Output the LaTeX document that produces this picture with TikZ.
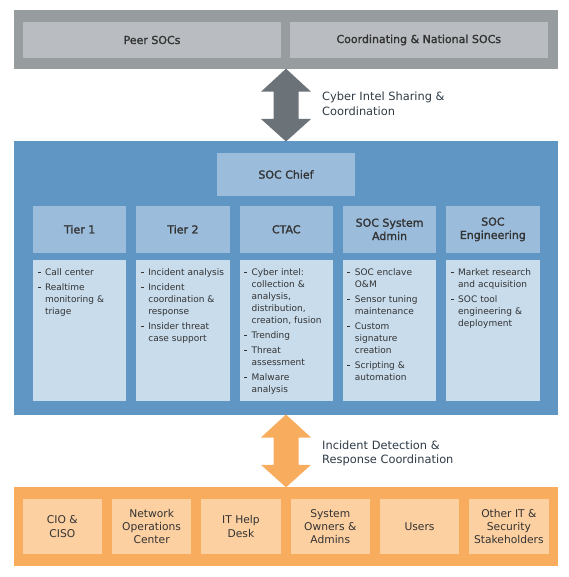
\documentclass[tikz,border=0pt]{standalone}
\usepackage{fontspec}
\setmainfont{DejaVu Sans}
\newfontfamily\headfont[FakeBold=1.5]{DejaVu Sans}
\usetikzlibrary{calc}

\definecolor{extgray}{HTML}{979C9F}
\definecolor{extbox}{HTML}{B9BCC0}
\definecolor{arrgray}{HTML}{6B7278}
\definecolor{socblue}{HTML}{6096C4}
\definecolor{hdblue}{HTML}{9BBCDB}
\definecolor{lstblue}{HTML}{C8DCEC}
\definecolor{constorange}{HTML}{F7AC5E}
\definecolor{constbox}{HTML}{FCD0A1}
\definecolor{txtdark}{HTML}{333333}
\definecolor{lbltxt}{HTML}{2F3B46}

\newcommand{\litem}[1]{\par\hangindent=7.5pt\hangafter=1\noindent\makebox[7.5pt][l]{\rule[2.5pt]{3pt}{1.1pt}}#1\par\vspace{3pt}}

\begin{document}
\begin{tikzpicture}[
    x=1pt,y=-1pt,
    band/.style={anchor=north west,inner sep=0pt,outer sep=0pt,minimum width=544pt},
    topbox/.style={fill=extbox,minimum width=257.5pt,minimum height=36pt,text=txtdark,
        font=\headfont\fontsize{11}{13.3}\selectfont},
    hdbox/.style={fill=hdblue,minimum width=93.3pt,minimum height=46.7pt,align=center,text=txtdark,
        font=\headfont\fontsize{11}{13.3}\selectfont},
    lstbox/.style={fill=lstblue,minimum width=93.3pt,minimum height=140.4pt},
    lst/.style={anchor=north west,inner sep=0pt,text width=86pt,align=left,text=txtdark,
        font=\fontsize{9}{12}\selectfont},
    cbox/.style={fill=constbox,minimum width=79.3pt,minimum height=55pt,align=center,text=txtdark,
        font=\fontsize{10.7}{13.3}\selectfont},
    lbl/.style={anchor=west,align=left,inner sep=0pt,text=lbltxt,
        font=\fontsize{11.4}{14.7}\selectfont}
]
\useasboundingbox (0,0) rectangle (568,577);

\node[band,fill=extgray,minimum height=58.7pt] (ext) at (14,10) {};
\node[topbox] (peer) at (152,40) {Peer SOCs};
\node[topbox] (natl) at (418.75,40) {Coordinating \& National SOCs};

\node[band,fill=socblue,minimum height=273pt] (soc) at (14,141.5) {};
\node[hdbox,minimum width=138pt,minimum height=43pt] (chief) at (286,174.5) {SOC Chief};

\node[hdbox] (tier1) at (79.65,229.35) {Tier 1};
\node[hdbox] (tier2) at (182.95,229.35) {Tier 2};
\node[hdbox] (ctac) at (286.25,229.35) {CTAC};
\node[hdbox] (sysadm) at (389.55,229.35) {SOC System\\Admin};
\node[hdbox] (eng) at (492.85,229.35) {SOC\\Engineering};

\node[lstbox] (tier1b) at (79.65,330.5) {};
\node[lstbox] (tier2b) at (182.95,330.5) {};
\node[lstbox] (ctacb) at (286.25,330.5) {};
\node[lstbox] (sysadmb) at (389.55,330.5) {};
\node[lstbox] (engb) at (492.85,330.5) {};

\node[lst] (tier1l) at ([xshift=4.5pt,yshift=-3pt]tier1b.north west) {%
  \litem{Call center}
  \litem{Realtime\newline monitoring \&\newline triage}};
\node[lst] (tier2l) at ([xshift=4.5pt,yshift=-3pt]tier2b.north west) {%
  \litem{Incident analysis}
  \litem{Incident\newline coordination \&\newline response}
  \litem{Insider threat\newline case support}};
\node[lst] (ctacl) at ([xshift=4.5pt,yshift=-3pt]ctacb.north west) {%
  \litem{Cyber intel:\newline collection \&\newline analysis,\newline distribution,\newline creation, fusion}
  \litem{Trending}
  \litem{Threat\newline assessment}
  \litem{Malware\newline analysis}};
\node[lst] (sysadml) at ([xshift=4.5pt,yshift=-3pt]sysadmb.north west) {%
  \litem{SOC enclave\newline O\&M}
  \litem{Sensor tuning\newline maintenance}
  \litem{Custom\newline signature\newline creation}
  \litem{Scripting \&\newline automation}};
\node[lst] (engl) at ([xshift=4.5pt,yshift=-3pt]engb.north west) {%
  \litem{Market research\newline and acquisition}
  \litem{SOC tool\newline engineering \&\newline deployment}};

\node[band,fill=constorange,minimum height=78.7pt] (const) at (14,487.3) {};
\node[cbox] (cio) at (62.35,526.5) {CIO \&\\CISO};
\node[cbox] (noc) at (151.65,526.5) {Network\\Operations\\Center};
\node[cbox] (help) at (240.95,526.5) {IT Help\\Desk};
\node[cbox] (owners) at (330.25,526.5) {System\\Owners \&\\Admins};
\node[cbox] (users) at (419.55,526.5) {Users};
\node[cbox] (other) at (508.85,526.5) {Other IT \&\\Security\\Stakeholders};

\fill[arrgray] (ext.south) -- ++(25,23) -- ++(-12.5,0) -- ($(soc.north)+(12.5,-22.5)$) -- ++(12.5,0)
  -- (soc.north) -- ++(-25,-22.5) -- ++(12.5,0) -- ($(ext.south)+(-12.5,23)$) -- ++(-12.5,0) -- cycle;
\fill[constorange] (soc.south) -- ++(25,23) -- ++(-12.5,0) -- ($(const.north)+(12.5,-22.5)$) -- ++(12.5,0)
  -- (const.north) -- ++(-25,-22.5) -- ++(12.5,0) -- ($(soc.south)+(-12.5,23)$) -- ++(-12.5,0) -- cycle;

\node[lbl] (intel) at (322,103.5) {Cyber Intel Sharing \&\\Coordination};
\node[lbl] (incident) at (322,453.5) {Incident Detection \&\\Response Coordination};
\end{tikzpicture}
\end{document}
